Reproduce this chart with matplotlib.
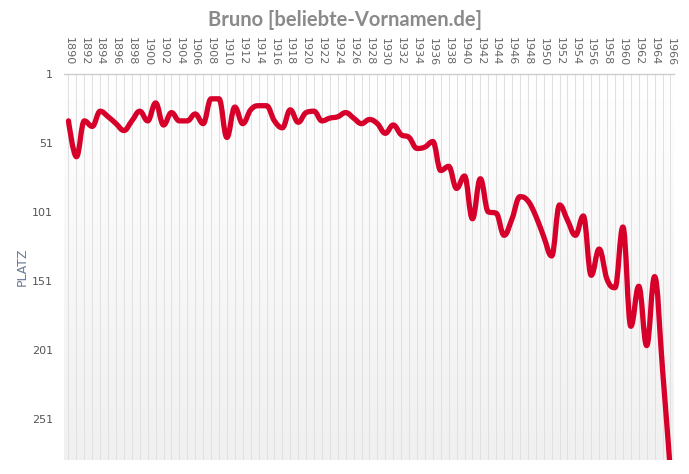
import matplotlib
matplotlib.use("Agg")
import matplotlib.pyplot as plt
import numpy as np
from matplotlib.path import Path
from matplotlib.patches import PathPatch

years = list(range(1890, 1967))
ranks = [35, 61, 35, 39, 28, 32, 37, 42, 35, 28,
         35, 22, 38, 29, 35, 35, 30, 37, 19, 19,
         47, 25, 37, 27, 24, 24, 35, 40, 27, 36,
         29, 28, 35, 33, 32, 29, 33, 37, 34, 37,
         44, 38, 45, 47, 55, 54, 50, 71, 68, 84,
         75, 106, 77, 101, 102, 118, 106, 90, 93, 104,
         119, 133, 96, 107, 118, 104, 147, 128, 150, 156,
         112, 184, 155, 198, 148, 215, 290]
ytick_vals = [1, 51, 101, 151, 201, 251]
xtick_labels = [str(y) for y in range(1890, 1967, 2)]

title = "Bruno [beliebte-Vornamen.de]"
ylabel = "PLATZ"


def spline_path(xs, ys, smoothing=1.5):
    """Highcharts-style spline as cubic Bezier path."""
    n = len(xs)
    left = [None] * n
    right = [None] * n
    denom = smoothing + 1
    for i in range(1, n - 1):
        px, py = xs[i], ys[i]
        lx, ly = xs[i - 1], ys[i - 1]
        nx, ny = xs[i + 1], ys[i + 1]
        lcx = (smoothing * px + lx) / denom
        lcy = (smoothing * py + ly) / denom
        rcx = (smoothing * px + nx) / denom
        rcy = (smoothing * py + ny) / denom
        if rcx != lcx:
            corr = ((rcy - lcy) * (rcx - px)) / (rcx - lcx) + py - rcy
            lcy += corr
            rcy += corr
        if lcy > ly and lcy > py:
            lcy = max(ly, py)
            rcy = 2 * py - lcy
        elif lcy < ly and lcy < py:
            lcy = min(ly, py)
            rcy = 2 * py - lcy
        if rcy > ny and rcy > py:
            rcy = max(ny, py)
            lcy = 2 * py - rcy
        elif rcy < ny and rcy < py:
            rcy = min(ny, py)
            lcy = 2 * py - rcy
        left[i] = (lcx, lcy)
        right[i] = (rcx, rcy)
    verts = [(xs[0], ys[0])]
    codes = [Path.MOVETO]
    for i in range(1, n):
        c1 = right[i - 1] if right[i - 1] is not None else (xs[i - 1], ys[i - 1])
        c2 = left[i] if left[i] is not None else (xs[i], ys[i])
        verts += [c1, c2, (xs[i], ys[i])]
        codes += [Path.CURVE4, Path.CURVE4, Path.CURVE4]
    return Path(verts, codes)


W, H = 689, 474
fig = plt.figure(figsize=(W / 100, H / 100), dpi=100)
fig.patch.set_facecolor("white")
left_px, right_px, top_px, bottom_px = 64.3, 674, 74, 460
ax = fig.add_axes([left_px / W, 1 - bottom_px / H,
                   (right_px - left_px) / W, (bottom_px - top_px) / H])

# gradient background
grad = np.linspace(0, 1, 256).reshape(-1, 1)
cmap = matplotlib.colors.LinearSegmentedColormap.from_list("bg", ["#ffffff", "#f0f0f0"])
ax.imshow(grad, aspect="auto", cmap=cmap, extent=[0, 1, 0, 1], origin="upper",
          transform=ax.transAxes, zorder=0)

ax.set_xlim(1889.47, 1966.45)
ax.set_ylim(281, 1)

# vertical gridlines every year
for yr in years:
    ax.axvline(yr, color="#e0e0e0", lw=0.7, zorder=1)

path = spline_path(years, ranks)
patch = PathPatch(path, facecolor="none", edgecolor="#d6002a", lw=3.8,
                  capstyle="round", joinstyle="round", zorder=3)
ax.add_patch(patch)

# axes styling
for s in ["left", "right", "bottom"]:
    ax.spines[s].set_visible(False)
ax.spines["top"].set_color("#cccccc")
ax.spines["top"].set_linewidth(1.0)

ax.xaxis.tick_top()
ax.set_xticks(list(range(1890, 1967, 2)))
ax.set_xticklabels(xtick_labels, rotation=-90, fontsize=8, color="#666666",
                   family="DejaVu Sans")
ax.tick_params(axis="x", length=0, pad=6)

ax.set_yticks(ytick_vals)
ax.set_yticklabels([str(v) for v in ytick_vals], fontsize=8, color="#555555",
                   family="DejaVu Sans")
ax.tick_params(axis="y", length=0, pad=8)

fig.text(22 / W, 1 - 267 / H, ylabel, rotation=90, ha="center", va="center",
         fontsize=9, color="#6b7a99", family="DejaVu Sans")

fig.text(0.5, 1 - 20 / H, title, ha="center", va="center", fontsize=14.5,
         fontweight="bold", color="#8a8a8a", family="Lato")

fig.savefig("out.png", dpi=100)
